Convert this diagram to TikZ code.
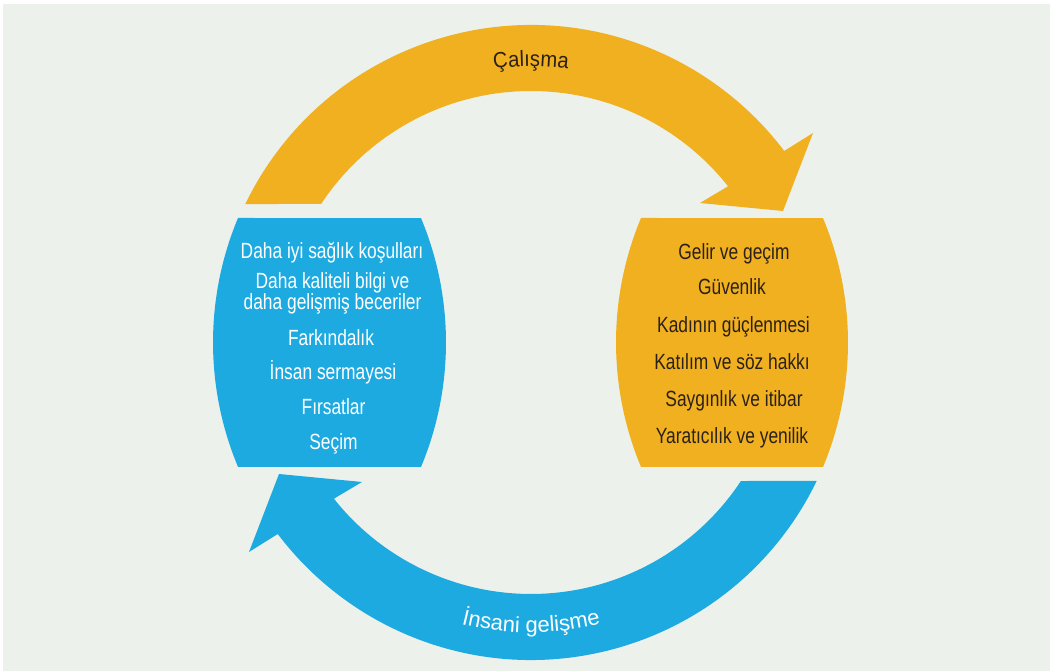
\documentclass[tikz,border=0pt]{standalone}
\usepackage{fontspec}
\setmainfont{Liberation Sans}[FakeStretch=0.79]
\newfontfamily\lblfonta{Liberation Sans}[FakeStretch=0.92]
\newfontfamily\lblfontb{Liberation Sans}
\usetikzlibrary{calc,decorations.text}
\definecolor{bg}{HTML}{ECF1EB}
\definecolor{corange}{HTML}{F0B020}
\definecolor{cblue}{HTML}{1DAAE1}
\definecolor{cdark}{HTML}{2B2118}
\tikzset{
  itemtext/.style={font=\fontsize{22}{18.3}\selectfont, anchor=base, align=center, inner sep=0pt},
  itemw/.style={itemtext, text=white},
  itemd/.style={itemtext, text=cdark},
}
\begin{document}
\begin{tikzpicture}[x=1pt,y=1pt]
\useasboundingbox (0,0) rectangle (1050,671);
\fill[white] (0,0) rectangle (1050,671);
\fill[bg] (3,0) rectangle (1050,667);
\coordinate (C) at (531,328.5);
% orange arc arrow (Calisma)
\fill[corange] ($(C)+(154.14:317.5)$) arc[start angle=154.14, end angle=37.1, radius=317.5]
  -- ($(C)+(282,209.5)$) -- ($(C)+(252,131.5)$) -- ($(C)+(169,139.5)$)
  -- ($(C)+(38.4:251.5)$) arc[start angle=38.4, end angle=146.58, radius=251.5] -- cycle;
% blue arc arrow (Insani gelisme)
\fill[cblue] ($(C)+(334.14:317.5)$) arc[start angle=334.14, end angle=217.1, radius=317.5]
  -- ($(C)+(-282,-209.5)$) -- ($(C)+(-252,-131.5)$) -- ($(C)+(-169,-139.5)$)
  -- ($(C)+(218.4:251.5)$) arc[start angle=218.4, end angle=326.58, radius=251.5] -- cycle;
% boxes
\fill[cblue] (238,453) arc[start angle=157.3, end angle=202.7, radius=322.5]
  -- (421,204) arc[start angle=-22.7, end angle=22.7, radius=322.5] -- cycle;
\fill[corange] (641,453) arc[start angle=157.3, end angle=202.7, radius=322.5]
  -- (823,204) arc[start angle=-22.7, end angle=22.7, radius=322.5] -- cycle;
% arc labels
\path[decorate, decoration={text along path, text align=center, text color=cdark,
  text={|\lblfonta\fontsize{22}{22}\selectfont|Çalışma}}]
  ($(C)+(150:276)$) arc[start angle=150, end angle=30, radius=276];
\path[decorate, decoration={text along path, text align=center, text color=white,
  text={|\lblfontb\fontsize{22}{22}\selectfont|İnsani gelişme}}]
  ($(C)+(210:290)$) arc[start angle=210, end angle=330, radius=290];
% blue box text
\node[itemw] (b1) at (332,412.7) {Daha iyi sağlık koşulları};
\node[itemw] (b2) at (332.5,361) {Daha kaliteli bilgi ve\\daha gelişmiş beceriler};
\node[itemw] (b3) at (331,325.3) {Farkındalık};
\node[itemw] (b4) at (333,291) {İnsan sermayesi};
\node[itemw] (b5) at (333.5,256) {Fırsatlar};
\node[itemw] (b6) at (333.5,221.7) {Seçim};
% orange box text
\node[itemd] (o1) at (734,411.7) {Gelir ve geçim};
\node[itemd] (o2) at (732,376) {Güvenlik};
\node[itemd] (o3) at (733.5,338.7) {Kadının güçlenmesi};
\node[itemd] (o4) at (732,301) {Katılım ve söz hakkı};
\node[itemd] (o5) at (734,264.3) {Saygınlık ve itibar};
\node[itemd] (o6) at (732,227.7) {Yaratıcılık ve yenilik};
\end{tikzpicture}
\end{document}
